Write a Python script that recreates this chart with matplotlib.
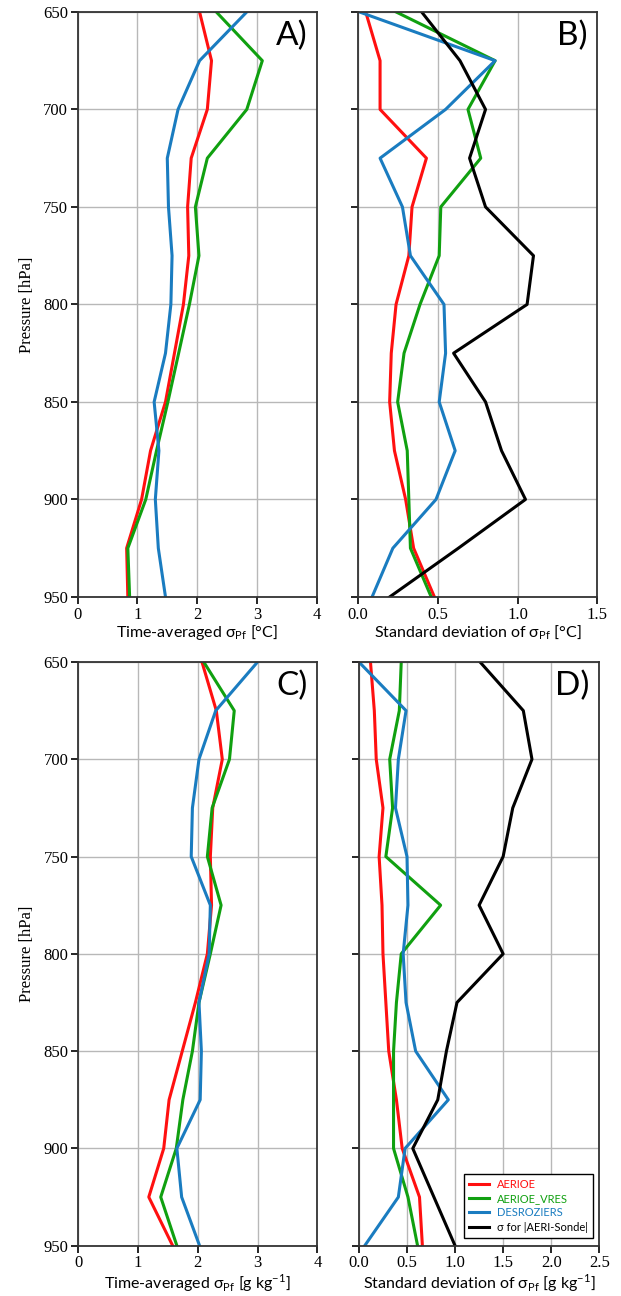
import numpy as np
import matplotlib
matplotlib.use("Agg")
import matplotlib.pyplot as plt

plt.rcParams['font.family'] = ['Liberation Serif', 'DejaVu Serif']
plt.rcParams['mathtext.fontset'] = 'custom'
plt.rcParams['mathtext.rm'] = 'Lato'

# pressure levels [hPa]
pres = [650, 675, 700, 725, 750, 775, 800, 825, 850, 875, 900, 925, 950]

# A) time-averaged sigma, temperature [degC]
tA_aerioe = [2.04, 2.24, 2.17, 1.90, 1.84, 1.86, 1.77, 1.62, 1.47, 1.22, 1.07, 0.82, 0.84]
tA_vres = [2.32, 3.09, 2.83, 2.17, 1.97, 2.03, 1.87, 1.69, 1.51, 1.32, 1.14, 0.84, 0.87]
tA_desroz = [2.83, 2.04, 1.68, 1.50, 1.52, 1.58, 1.56, 1.47, 1.28, 1.36, 1.30, 1.35, 1.47]

# B) standard deviation of sigma, temperature [degC]
tB_aerioe = [0.05, 0.14, 0.14, 0.43, 0.34, 0.32, 0.24, 0.21, 0.20, 0.23, 0.30, 0.35, 0.48]
tB_vres = [0.24, 0.86, 0.69, 0.77, 0.52, 0.51, 0.39, 0.29, 0.25, 0.31, 0.32, 0.33, 0.46]
tB_desroz = [0.01, 0.86, 0.55, 0.14, 0.28, 0.33, 0.54, 0.55, 0.51, 0.61, 0.49, 0.22, 0.09]
tB_sonde = [0.40, 0.64, 0.80, 0.70, 0.80, 1.10, 1.06, 0.60, 0.80, 0.90, 1.05, 0.63, 0.20]

# C) time-averaged sigma, water vapour [g/kg]
qC_aerioe = [2.07, 2.31, 2.41, 2.25, 2.21, 2.23, 2.16, 1.96, 1.74, 1.52, 1.43, 1.18, 1.58]
qC_vres = [2.10, 2.61, 2.53, 2.24, 2.16, 2.39, 2.21, 2.02, 1.91, 1.75, 1.64, 1.38, 1.65]
qC_desroz = [3.00, 2.30, 2.02, 1.91, 1.89, 2.21, 2.19, 2.02, 2.06, 2.04, 1.65, 1.73, 2.03]

# D) standard deviation of sigma, water vapour [g/kg]
qD_aerioe = [0.12, 0.16, 0.18, 0.25, 0.21, 0.24, 0.25, 0.28, 0.31, 0.39, 0.45, 0.63, 0.66]
qD_vres = [0.44, 0.42, 0.32, 0.35, 0.28, 0.85, 0.44, 0.39, 0.36, 0.36, 0.36, 0.51, 0.61]
qD_desroz = [0.00, 0.49, 0.41, 0.38, 0.50, 0.51, 0.46, 0.49, 0.59, 0.93, 0.48, 0.41, 0.06]
qD_sonde = [1.26, 1.71, 1.80, 1.60, 1.50, 1.25, 1.50, 1.02, 0.91, 0.82, 0.56, 0.78, 1.00]

labels = ['AERIOE', 'AERIOE_VRES', 'DESROZIERS', 'σ for |AERI-Sonde|']
colors = ['#ff1010', '#10a010', '#1a7cc0', 'k']
sans = ['Lato', 'DejaVu Sans']

fig = plt.figure(figsize=(6.21, 12.96), dpi=100)
axA = fig.add_axes([0.125, 0.5394, 0.385, 0.4514])
axB = fig.add_axes([0.576, 0.5394, 0.386, 0.4514])
axC = fig.add_axes([0.126, 0.0388, 0.385, 0.4504])
axD = fig.add_axes([0.578, 0.0388, 0.387, 0.4504])

panels = [
    (axA, [tA_aerioe, tA_vres, tA_desroz], 'A)', 4, np.arange(0, 5, 1), '%d',
     'Time-averaged σ$_{\\mathrm{Pf}}$ [°C]'),
    (axB, [tB_aerioe, tB_vres, tB_desroz, tB_sonde], 'B)', 1.5, np.arange(0, 1.6, 0.5), '%.1f',
     'Standard deviation of σ$_{\\mathrm{Pf}}$ [°C]'),
    (axC, [qC_aerioe, qC_vres, qC_desroz], 'C)', 4, np.arange(0, 5, 1), '%d',
     'Time-averaged σ$_{\\mathrm{Pf}}$ [g kg$^{\\mathrm{-1}}$]'),
    (axD, [qD_aerioe, qD_vres, qD_desroz, qD_sonde], 'D)', 2.5, np.arange(0, 2.6, 0.5), '%.1f',
     'Standard deviation of σ$_{\\mathrm{Pf}}$ [g kg$^{\\mathrm{-1}}$]'),
]

for ax, series, letter, xmax, xt, fmt, xlabel in panels:
    for i, s in enumerate(series):
        ax.plot(s, pres, color=colors[i], lw=2.2, label=labels[i])
    ax.set_xlim(0, xmax)
    ax.set_ylim(950, 650)
    ax.set_xticks(xt)
    ax.set_xticklabels([fmt % v for v in xt])
    ax.set_yticks(np.arange(650, 951, 50))
    ax.grid(True, color='#b8b8b8', lw=1)
    ax.set_axisbelow(True)
    for sp in ax.spines.values():
        sp.set_linewidth(1.3)
        sp.set_color('#333333')
    ax.tick_params(length=5, width=1.2, pad=2, labelsize=12)
    ax.set_xlabel(xlabel, family=sans, fontsize=11.5, labelpad=0.5)
    ax.text(0.96, 0.985, letter, transform=ax.transAxes, ha='right', va='top',
            family=sans, fontsize=24)

for ax in [axA, axC]:
    ax.set_ylabel('Pressure [hPa]', fontsize=12, labelpad=6)
for ax in [axB, axD]:
    ax.set_yticklabels([])

leg = axD.legend(loc='lower right', handlelength=1.8, borderpad=0.45,
                 labelspacing=0.3, fancybox=False, framealpha=1, edgecolor='k',
                 prop={'family': sans, 'size': 8}, bbox_to_anchor=(0.985, 0.01),
                 borderaxespad=0.2)
leg.get_frame().set_linewidth(1.0)
for txt, c in zip(leg.get_texts(), colors):
    txt.set_color(c)

fig.savefig('out.png', dpi=100)
